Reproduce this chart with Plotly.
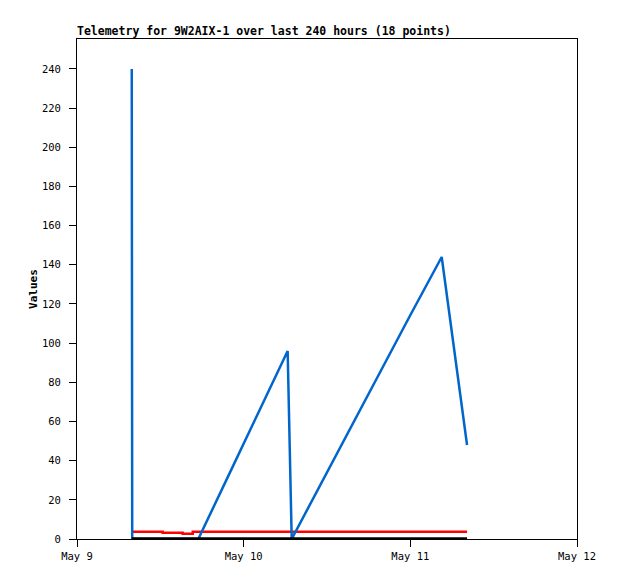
import plotly.graph_objects as go

times = [
    "2024-05-09 07:53", "2024-05-09 07:57", "2024-05-09 10:05", "2024-05-09 12:20",
    "2024-05-09 13:41", "2024-05-09 15:13", "2024-05-09 16:40", "2024-05-09 17:28",
    "2024-05-09 22:02", "2024-05-10 02:21", "2024-05-10 06:20", "2024-05-10 06:55",
    "2024-05-10 12:26", "2024-05-10 18:11", "2024-05-10 23:57", "2024-05-11 04:31",
    "2024-05-11 06:26", "2024-05-11 08:10",
]
blue_vals = [240, 0, 0, 0, 0, 0, 0, 0, 34, 66, 96, 0, 37, 75, 114, 144, 93, 48]
red_vals = [3.7, 3.7, 3.7, 3.2, 3.2, 2.7, 3.7, 3.7, 3.7, 3.7, 3.7, 3.7, 3.7, 3.7, 3.7, 3.7, 3.7, 3.7]
black_vals = [0] * 18

y_ticks = list(range(0, 241, 20))
x_ticks = ["2024-05-09", "2024-05-10", "2024-05-11", "2024-05-12"]
x_labels = ["May 9", "May 10", "May 11", "May 12"]

font = "DejaVu Sans Mono"

fig = go.Figure()
fig.add_trace(go.Scatter(x=times, y=red_vals, mode="lines", line_shape="hv",
                         line=dict(color="#FF0000", width=2.5), showlegend=False))
fig.add_trace(go.Scatter(x=times, y=blue_vals, mode="lines",
                         line=dict(color="#0066CC", width=2.5), showlegend=False))
fig.add_trace(go.Scatter(x=times, y=black_vals, mode="lines",
                         line=dict(color="#000000", width=3.5), showlegend=False))

fig.update_layout(
    width=618, height=579,
    margin=dict(l=69, r=49, t=31, b=48),
    paper_bgcolor="white", plot_bgcolor="white",
    font=dict(family=font, size=10, color="black"),
    title=dict(text="<b>Telemetry for 9W2AIX-1 over last 240 hours (18 points)</b>",
               x=69/618, xanchor="left", y=1-23/579, yanchor="middle",
               font=dict(family=font, size=11.5, color="black")),
    xaxis=dict(range=["2024-05-09", "2024-05-12"], tickvals=x_ticks, ticktext=x_labels,
               showgrid=False, zeroline=False, showline=True, mirror=True,
               linecolor="black", linewidth=1, ticks="outside", ticklen=7,
               tickcolor="black", tickfont=dict(family=font, size=10.5),
               ticklabelstandoff=0),
    yaxis=dict(range=[0, 255.3], tickvals=y_ticks,
               showgrid=False, zeroline=False, showline=True, mirror=True,
               linecolor="black", linewidth=1, ticks="outside", ticklen=7,
               tickcolor="black", tickfont=dict(family=font, size=10.5),
               ticklabelstandoff=6,
               title=dict(text="<b>Values</b>", font=dict(family=font, size=11), standoff=2)),
)

fig.write_html("out.html")
